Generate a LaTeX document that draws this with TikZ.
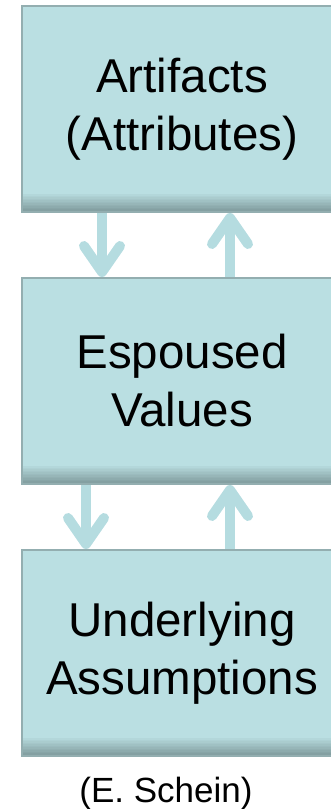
\documentclass[tikz,border=0pt]{standalone}
\usepackage{fontspec}
\setmainfont{Liberation Sans}
\usetikzlibrary{arrows.meta}
\definecolor{boxfill}{HTML}{BADFE2}
\definecolor{boxline}{HTML}{93AEB0}
\definecolor{boxshade}{HTML}{7F9A9C}
\definecolor{flowcol}{HTML}{B5DCE0}
\begin{document}
\begin{tikzpicture}[x=1pt,y=1pt,font=\fontsize{47.5}{58}\selectfont,
	b/.style={draw=boxline,line width=2pt,fill=boxfill,minimum width=320pt,minimum height=206pt,align=center,inner sep=0pt,
		execute at begin node={\rule{0pt}{44pt}},
		path picture={\foreach \i [evaluate=\i as \p using 100-\i*8] in {0,...,11}
			\fill[boxshade!\p!boxfill] ([yshift=\i*1.5pt]path picture bounding box.south west) rectangle ([yshift=\i*1.5pt+1.6pt]path picture bounding box.south east);}},
	flow/.style={draw=flowcol,line width=10pt,-{Straight Barb[length=26pt,width=36pt,round]}}]
	\useasboundingbox (0,0) rectangle (330,-809);
	\node[b] (art) at (182,-109) {Artifacts\\(Attributes)};
	\node[b] (val) at (182,-381) {Espoused\\Values};
	\node[b] (ass) at (182,-653) {Underlying\\Assumptions};
	\foreach \a/\b/\d in {art/val/-80,val/ass/-96} {
		\draw[flow] ([xshift=\d pt]\a.south) -- ([xshift=\d pt]\b.north);
		\draw[flow] ([xshift=48pt]\b.north) -- ([xshift=48pt]\a.south);}
	\node[font=\fontsize{35}{42}\selectfont,anchor=base] (src) at (166,-802) {(E. Schein)};
\end{tikzpicture}
\end{document}
